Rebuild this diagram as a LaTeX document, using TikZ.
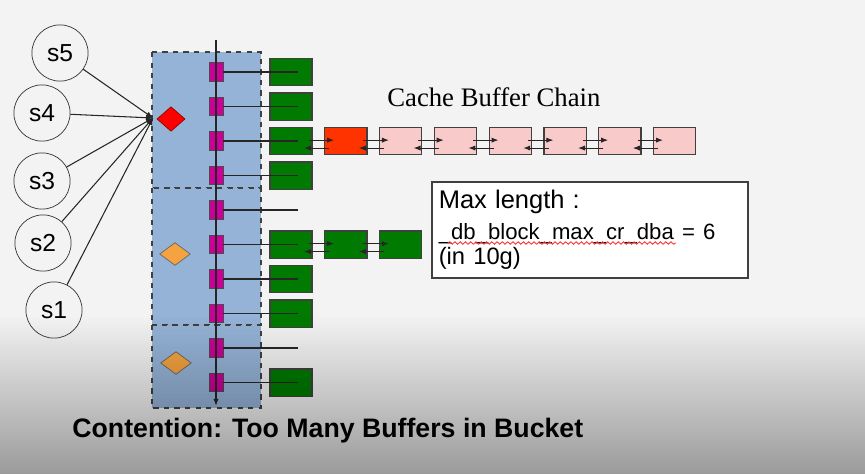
\documentclass[tikz,border=0pt]{standalone}
\usepackage{fontspec}
\setmainfont{Liberation Sans}
\newfontfamily\cbcfont{Liberation Serif}
\usepackage{xcolor}
\usepackage{tikz}
\usetikzlibrary{arrows.meta,positioning,shapes.geometric,fadings,decorations.pathmorphing}

\definecolor{slidebg}{HTML}{F3F3F3}
\definecolor{zoneblue}{HTML}{95B3D7}
\definecolor{latchmag}{HTML}{CC0099}
\definecolor{bufgreen}{HTML}{007A00}
\definecolor{hotred}{HTML}{FF3300}
\definecolor{bufpink}{HTML}{F8CACA}
\definecolor{lockorange}{HTML}{F4A340}

\begin{document}
\begin{tikzpicture}[x=0.02cm, y=-0.02cm, node distance=6.5pt,
    every node/.style={font=\fontsize{14}{16}\selectfont},
    sess/.style={draw=black!80, circle, fill=slidebg, minimum size=32pt, inner sep=0pt},
    zone/.style={draw=black!75, dashed, line width=0.8pt, fill=zoneblue},
    latch/.style={draw=black!70, fill=latchmag, minimum width=8pt, minimum height=10.5pt, inner sep=0pt},
    buf/.style={draw=black!75, line width=0.7pt, minimum width=24pt, minimum height=15.5pt, inner sep=0pt},
    lock/.style={diamond, draw=black!60, inner sep=0pt},
    wire/.style={draw=black!85, line width=0.7pt},
    link/.style={draw=black!85, line width=0.6pt, -{Latex[length=4pt,width=3pt]}}]

  % slide background
  \fill[slidebg] (0,0) rectangle (865,474);

  % hash buckets
  \draw[zone] (152,52) rectangle (261,188);
  \draw[zone] (152,188) rectangle (261,325);
  \draw[zone] (152,325) rectangle (261,408);

  % latches on the bucket list
  \foreach \i in {1,...,10}
    \node[latch] (m\i) at (216,72+34.5*\i-34.5) {};
  \coordinate (top) at (216,40);
  \coordinate (bot) at (216,406);
  \draw[wire, -{Latex[length=4pt,width=3pt]}] (top) -- (bot);

  % buffer headers
  \foreach \i in {1,2,3,4,6,7,8,10}
    \node[buf, fill=bufgreen] (g\i) at (291,72+34.5*\i-34.5) {};
  \foreach \i in {1,...,10} {
    \coordinate (e\i) at (298,72+34.5*\i-34.5);
    \draw[wire] (m\i.east) -- (e\i);
  }

  % cache buffer chain
  \node[buf, fill=hotred, right=of g3] (cr) {};
  \node[buf, fill=bufpink, right=of cr] (p1) {};
  \node[buf, fill=bufpink, right=of p1] (p2) {};
  \node[buf, fill=bufpink, right=of p2] (p3) {};
  \node[buf, fill=bufpink, right=of p3] (p4) {};
  \node[buf, fill=bufpink, right=of p4] (p5) {};
  \node[buf, fill=bufpink, right=of p5] (p6) {};
  \node[buf, fill=bufgreen, right=of g6] (h1) {};
  \node[buf, fill=bufgreen, right=of h1] (h2) {};
  \foreach \a/\b in {g3/cr,cr/p1,p1/p2,p2/p3,p3/p4,p4/p5,p5/p6,g6/h1,h1/h2} {
    \draw[link] ([xshift=-2.3pt,yshift=0.5pt]\a.east) -- ([xshift=5.7pt,yshift=0.5pt]\b.west);
    \draw[link] ([xshift=3pt,yshift=-4pt]\b.west) -- ([xshift=-5pt,yshift=-4pt]\a.east);
  }
  \node[anchor=base west, inner sep=0pt, font=\cbcfont\fontsize{15.2}{18}\selectfont] (cbc) at (387,106) {Cache Buffer Chain};

  % latch diamonds
  \node[lock, fill=red, draw=red!60!black, minimum width=16pt, minimum height=14pt] (rd) at (171,119) {};
  \node[lock, fill=lockorange, minimum width=17.5pt, minimum height=13pt] (od1) at (175,254) {};
  \node[lock, fill=lockorange, minimum width=17.5pt, minimum height=13pt] (od2) at (176,363) {};

  % sessions
  \node[sess] (s5) at (60,53) {s5};
  \node[sess] (s4) at (42,113) {s4};
  \node[sess] (s3) at (42,181) {s3};
  \node[sess] (s2) at (43,243) {s2};
  \node[sess] (s1) at (54,310) {s1};
  \coordinate (hub) at (153,118);
  \foreach \s in {s5,s4,s3,s2,s1}
    \draw[link] (\s) -- (hub);

  % max length note
  \node[draw=black!75, line width=0.9pt, fill=white, anchor=north west, minimum height=54.6pt,
        text width=172pt, inner sep=4pt, align=left] (maxlen) at (431,181)
    {\fontsize{14.5}{15}\selectfont Max length :\\[2.5pt]
     {\fontsize{12.6}{15}\selectfont\_db\_block\_max\_cr\_dba = 6}\\[-1.5pt]
     {\fontsize{13.5}{15}\selectfont(in 10g)}};
  \draw[red!80, line width=0.5pt, decorate,
        decoration={snake, amplitude=0.7pt, segment length=3pt}] (448,243) -- (676,243);

  % darker lower part of the slide
  \fill[black, fill opacity=0.36, path fading=north] (0,315) rectangle (865,474);

  \node[anchor=base west, inner sep=0pt, font=\bfseries\fontsize{15.2}{18}\selectfont] (title) at (72,437)
    {Contention: Too Many Buffers in Bucket};
\end{tikzpicture}
\end{document}
